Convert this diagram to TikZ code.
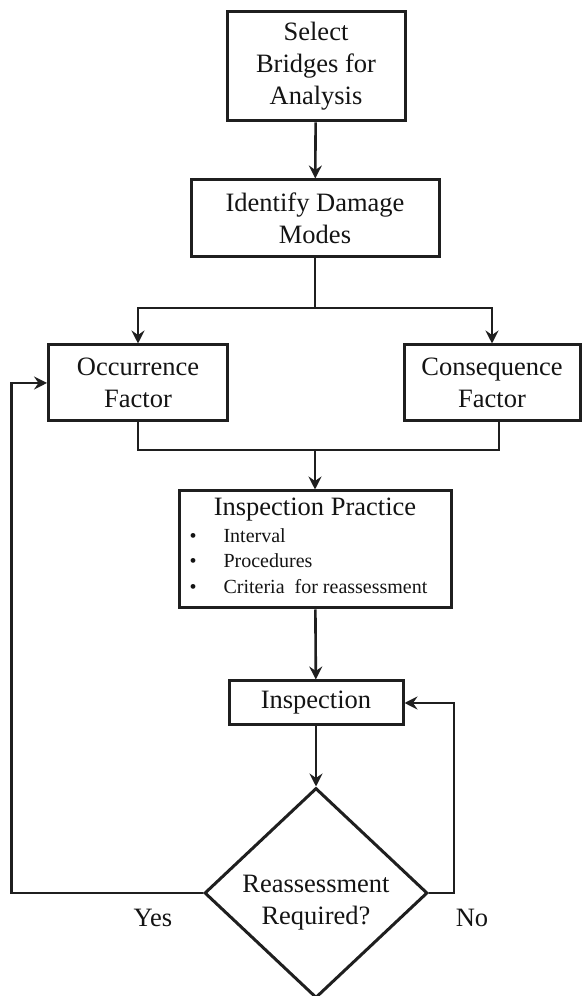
\documentclass[tikz,border=0pt]{standalone}
\usepackage{fontspec}
\setmainfont{Liberation Serif}
\usetikzlibrary{positioning,shapes.geometric,arrows.meta}

\begin{document}
\begin{tikzpicture}[
    x=1pt, y=1pt,
    every node/.style={font=\fontsize{26.5}{32}\selectfont, text=black!92},
    box/.style={draw=black!88, rectangle, align=center, line width=3pt, inner sep=0pt},
    decision/.style={draw=black!88, diamond, line width=3pt, inner sep=0pt,
        minimum width=223pt, minimum height=210pt},
    arrow/.style={-{Stealth[length=13pt,width=13pt,inset=4.5pt]}, line width=2.6pt, draw=black!88},
    link/.style={line width=2.6pt, draw=black!88}
]
\useasboundingbox (0,0) rectangle (582,996);

\node[box, minimum width=178pt, minimum height=109pt] (select) at (316,929.5) {Select\\Bridges for\\Analysis};
\node[box, minimum width=248pt, minimum height=77pt] (identify) at (315,777.5) {Identify Damage\\Modes};
\node[box, minimum width=179pt, minimum height=76pt] (occ) at (138,613) {Occurrence\\Factor};
\node[box, minimum width=176pt, minimum height=76pt] (cons) at (492,613) {Consequence\\Factor};
\node[box, minimum width=272pt, minimum height=117pt] (practice) at (315,446.5) {Inspection Practice\\[-5.5pt]
    \hspace*{-13pt}{\fontsize{20}{25.5}\selectfont
    \begin{tabular}[t]{@{}l@{\hspace{27pt}}l@{}}
    \textbullet & Interval\\
    \textbullet & Procedures\\
    \textbullet & Criteria\ \ for reassessment
    \end{tabular}}};
\node[box, minimum width=174pt, minimum height=44pt] (insp) at (316,293) {Inspection};
\node[decision] (dec) at (316,103) {};
\node[align=center] (dectext) at (316,93.5) {Reassessment\\Required?};
\node (yes) at (153,78) {Yes};
\node (no) at (472,78) {No};

\coordinate (split) at (identify.south |- 0,688);
\coordinate (merge) at (practice.north |- 0,546);

\draw[arrow] (select) -- (identify);
\draw[link] (identify.south) -- (split);
\draw[arrow] (split) -| (occ.north);
\draw[arrow] (split) -| (cons.north);
\draw[link] (occ.south) |- (merge) -| ([xshift=7pt]cons.south);
\draw[arrow] (merge) -- (practice.north);
\draw[arrow] (practice) -- (insp);
\draw[arrow] (insp) -- (dec.north);
\draw[arrow] (dec.east) -- ++(25,0) |- (insp.east);
\draw[arrow] (dec.west) -- ++(-191.5,0) |- (occ.west);
\end{tikzpicture}
\end{document}
